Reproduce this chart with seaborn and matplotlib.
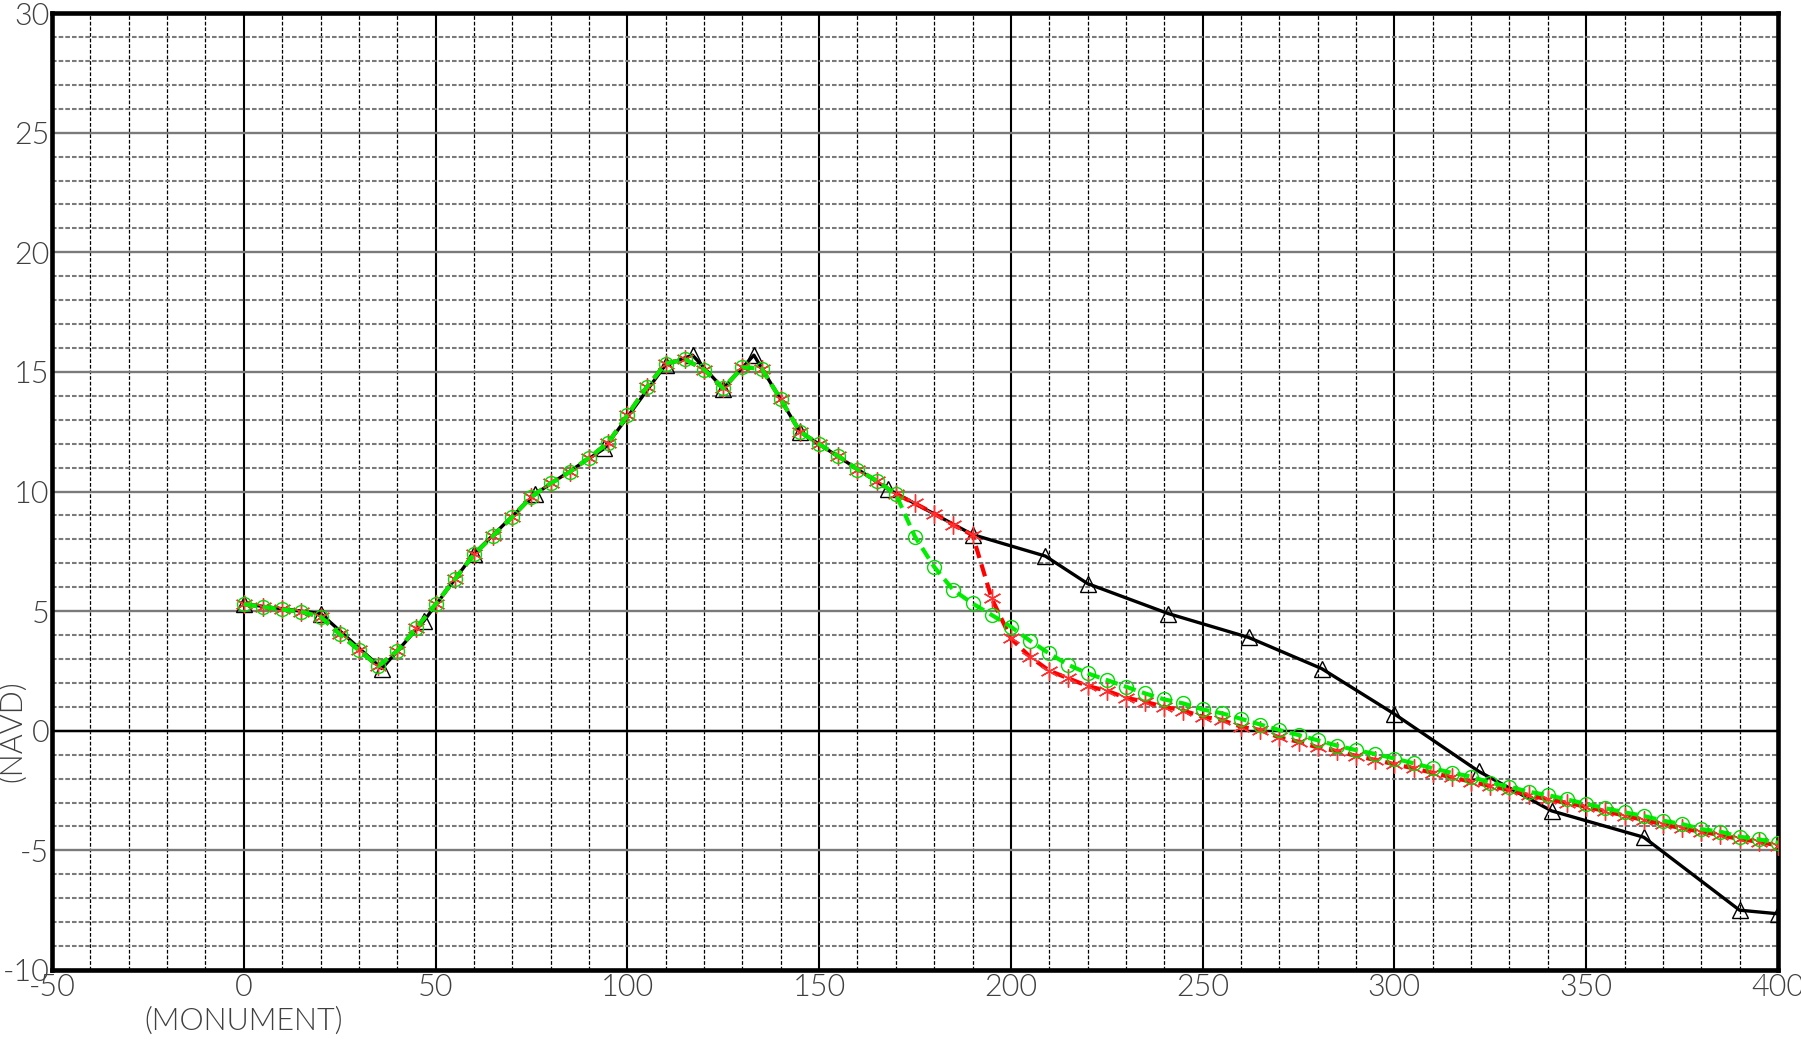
import numpy as np
import pandas as pd
import matplotlib
matplotlib.use("Agg")
from matplotlib import pyplot as plt
from matplotlib.ticker import MultipleLocator
import seaborn as sns

# surveyed profile (black, triangles)
survey_x = [0, 20, 36, 47, 60, 76, 94, 110, 117, 125, 133, 145, 168, 190,
            209, 220, 241, 262, 281, 300, 322, 341, 365, 390, 400]
survey_y = [5.3, 4.9, 2.6, 4.6, 7.4, 9.9, 11.8, 15.3, 15.7, 14.3, 15.7, 12.5,
            10.1, 8.2, 7.3, 6.15, 4.9, 3.9, 2.6, 0.7, -1.7, -3.35, -4.45,
            -7.5, -7.65]

# design profiles sampled every 5 ft
station = list(range(0, 405, 5))
red_y = [5.29, 5.18, 5.07, 4.97, 4.77, 4.04, 3.37, 2.70, 3.33, 4.30,
         5.29, 6.33, 7.37, 8.15, 8.94, 9.78, 10.34, 10.82, 11.41, 12.04,
         13.19, 14.35, 15.35, 15.52, 15.10, 14.31, 15.19, 15.14, 13.85, 12.50,
         11.98, 11.48, 10.92, 10.45, 9.89,
         9.50, 9.08, 8.60, 8.18, 5.53, 3.86, 3.09, 2.51, 2.19, 1.87,
         1.67, 1.38, 1.21, 1.00, 0.84, 0.59, 0.45, 0.17, 0.03, -0.28,
         -0.46, -0.70, -0.85, -1.05, -1.22, -1.40, -1.57, -1.76, -1.95, -2.13,
         -2.31, -2.48, -2.69, -2.87, -3.01, -3.18, -3.36, -3.55, -3.73, -3.91,
         -4.08, -4.22, -4.36, -4.53, -4.64, -4.80]
green_y = [5.29, 5.18, 5.07, 4.97, 4.77, 4.04, 3.37, 2.70, 3.33, 4.30,
           5.29, 6.33, 7.37, 8.15, 8.94, 9.78, 10.34, 10.82, 11.41, 12.04,
           13.19, 14.35, 15.35, 15.52, 15.10, 14.31, 15.19, 15.14, 13.85, 12.50,
           11.98, 11.48, 10.92, 10.45, 9.89,
           8.11, 6.85, 5.88, 5.32, 4.84, 4.35, 3.76, 3.23, 2.75, 2.40,
           2.12, 1.84, 1.56, 1.31, 1.14, 0.89, 0.73, 0.50, 0.26, 0.03,
           -0.18, -0.40, -0.62, -0.81, -0.97, -1.16, -1.36, -1.57, -1.76, -1.92,
           -2.17, -2.34, -2.55, -2.69, -2.87, -3.06, -3.24, -3.41, -3.56, -3.76,
           -3.90, -4.11, -4.22, -4.43, -4.54, -4.68]

sns.set_style("white")
plt.rcParams['font.family'] = ['Lato', 'DejaVu Sans']
plt.rcParams['font.weight'] = 300

TXT = dict(fontsize=22, color='#404040', fontweight=300)

fig = plt.figure(figsize=(18.01, 10.43), dpi=100)
ax = fig.add_axes([0.0289, 0.070, 0.9583, 0.9175])

# grid
ax.xaxis.set_major_locator(MultipleLocator(50))
ax.xaxis.set_minor_locator(MultipleLocator(10))
ax.yaxis.set_major_locator(MultipleLocator(5))
ax.yaxis.set_minor_locator(MultipleLocator(1))
ax.grid(which='major', axis='x', color='black', lw=1.5, ls='-')
ax.grid(which='minor', axis='x', color='black', lw=0.9, ls=(0, (3, 1.5)))
ax.grid(which='major', axis='y', color='#7a7a7a', lw=1.7, ls='-')
ax.grid(which='minor', axis='y', color='#7a7a7a', lw=1.5, ls=(0, (2.2, 1)))
ax.axhline(0, color='black', lw=1.7, zorder=1)
ax.set_axisbelow(True)

sns.lineplot(x=survey_x, y=survey_y, ax=ax, color='black', lw=2.4,
             marker='^', markersize=11, markerfacecolor='none',
             markeredgecolor='black', markeredgewidth=1.0, zorder=3)
sns.lineplot(x=station, y=red_y, ax=ax, color='#ff0000', lw=3.0,
             linestyle=(0, (3, 1.6)), marker=(6, 2, 0), markersize=13,
             markeredgecolor='#ff3030', markeredgewidth=1.0, zorder=4)
sns.lineplot(x=station, y=green_y, ax=ax, color='#00ee00', lw=3.0,
             linestyle=(0, (3, 1.6)), marker='o', markersize=10,
             markerfacecolor='none', markeredgecolor='#00dd00',
             markeredgewidth=1.0, zorder=5)

ax.set_xlim(-50, 400)
ax.set_ylim(-10, 30)
ax.set_xlabel('')
ax.set_ylabel('')
ax.tick_params(which='both', length=0, labelsize=TXT['fontsize'],
               labelcolor=TXT['color'])
ax.tick_params(axis='x', pad=2)
ax.tick_params(axis='y', pad=2)
ax.set_xticklabels([f"{int(v)}" for v in ax.get_xticks()], fontweight=300)
ax.set_yticklabels([f"{int(v)}" for v in ax.get_yticks()], fontweight=300)

for s in ax.spines.values():
    s.set_visible(True)
    s.set_color('black')
    s.set_linewidth(3.3)

ax.annotate('(MONUMENT)', xy=(0, 0), xycoords=('data', 'axes fraction'),
            xytext=(0, -37), textcoords='offset points', ha='center',
            va='center', **TXT)
ax.annotate('(NAVD)', xy=(0, 0), xycoords=('axes fraction', 'data'),
            xytext=(-28, 0), textcoords='offset points', ha='center',
            va='center', rotation=90, **TXT)

fig.savefig('out.png', dpi=100)
